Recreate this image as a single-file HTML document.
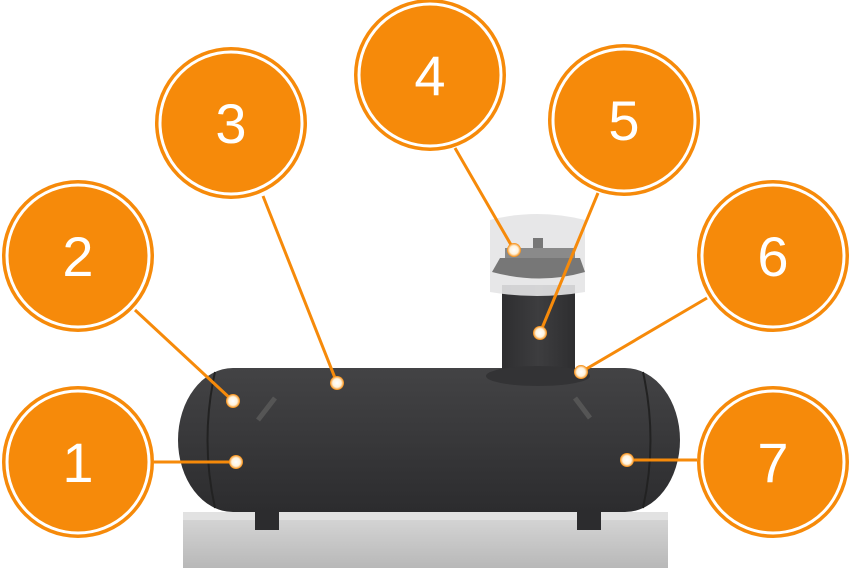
<!DOCTYPE html>
<html><head><style>html,body{margin:0;padding:0;background:#fff;width:850px;height:568px;overflow:hidden}</style></head>
<body>
<svg width="850" height="568" viewBox="0 0 850 568" xmlns="http://www.w3.org/2000/svg">
<defs>
<linearGradient id="tank" x1="0" y1="0" x2="0" y2="1">
<stop offset="0" stop-color="#434345"/><stop offset="0.5" stop-color="#38383a"/><stop offset="1" stop-color="#2c2c2e"/></linearGradient>
<linearGradient id="pipe" x1="0" y1="0" x2="1" y2="0">
<stop offset="0" stop-color="#2e2e30"/><stop offset="0.5" stop-color="#3d3d3f"/><stop offset="1" stop-color="#2e2e30"/></linearGradient>
<linearGradient id="base" x1="0" y1="0" x2="0" y2="1">
<stop offset="0" stop-color="#d8d8d8"/><stop offset="1" stop-color="#b8b8b8"/></linearGradient>
<radialGradient id="dot"><stop offset="0" stop-color="#fff"/><stop offset="0.6" stop-color="#fff3dd"/><stop offset="1" stop-color="#f68a0a"/></radialGradient>
</defs>
<rect x="183" y="512" width="485" height="56" fill="url(#base)"/>
<rect x="183" y="512" width="485" height="8" fill="#e2e2e2"/>
<rect x="255" y="490" width="24" height="40" fill="#2c2c2e"/>
<rect x="577" y="490" width="24" height="40" fill="#2c2c2e"/>
<rect x="178" y="368" width="502" height="144" rx="55" ry="72" fill="url(#tank)"/>
<path d="M215 372 Q200 440 215 508" stroke="#222" stroke-width="2" fill="none"/>
<path d="M643 372 Q658 440 643 508" stroke="#222" stroke-width="2" fill="none"/>
<path d="M258 420 L275 398" stroke="#555" stroke-width="5"/>
<path d="M575 398 L590 418" stroke="#555" stroke-width="5"/>
<rect x="502" y="285" width="73" height="95" fill="url(#pipe)"/>
<ellipse cx="538" cy="376" rx="52" ry="10" fill="#333335"/>
<path d="M490 220 Q537 208 585 220 L585 292 Q537 300 490 292 Z" fill="#e4e4e6" opacity="0.9"/>
<path d="M492 272 L500 258 L580 258 L585 272 Q540 285 492 272Z" fill="#777"/>
<rect x="533" y="238" width="10" height="20" fill="#777"/>
<rect x="505" y="248" width="70" height="10" fill="#8a8a8a"/>
<g stroke="#f68a0a" stroke-width="3" fill="none">
<line x1="154" y1="462" x2="236" y2="462"/>
<line x1="135" y1="310" x2="233" y2="401"/>
<line x1="263" y1="196" x2="337" y2="383"/>
<line x1="455" y1="148" x2="514" y2="250"/>
<line x1="598" y1="193" x2="540" y2="333"/>
<line x1="707" y1="298" x2="581" y2="372"/>
<line x1="697" y1="460" x2="627" y2="460"/>
</g>
<g fill="url(#dot)">
<circle cx="236" cy="462" r="7"/><circle cx="233" cy="401" r="7"/><circle cx="337" cy="383" r="7"/>
<circle cx="514" cy="250" r="7"/><circle cx="540" cy="333" r="7"/><circle cx="581" cy="372" r="7"/><circle cx="627" cy="460" r="7"/>
</g>
<g font-family="Liberation Sans, sans-serif" font-size="56" fill="#fff" text-anchor="middle">
<g transform="translate(78,462)"><circle r="76" fill="#f68a0a"/><circle r="71" fill="none" stroke="#fff" stroke-width="3"/><text y="20">1</text></g>
<g transform="translate(78,256)"><circle r="76" fill="#f68a0a"/><circle r="71" fill="none" stroke="#fff" stroke-width="3"/><text y="20">2</text></g>
<g transform="translate(231,123)"><circle r="76" fill="#f68a0a"/><circle r="71" fill="none" stroke="#fff" stroke-width="3"/><text y="20">3</text></g>
<g transform="translate(430,75)"><circle r="76" fill="#f68a0a"/><circle r="71" fill="none" stroke="#fff" stroke-width="3"/><text y="20">4</text></g>
<g transform="translate(624,120)"><circle r="76" fill="#f68a0a"/><circle r="71" fill="none" stroke="#fff" stroke-width="3"/><text y="20">5</text></g>
<g transform="translate(773,256)"><circle r="76" fill="#f68a0a"/><circle r="71" fill="none" stroke="#fff" stroke-width="3"/><text y="20">6</text></g>
<g transform="translate(773,462)"><circle r="76" fill="#f68a0a"/><circle r="71" fill="none" stroke="#fff" stroke-width="3"/><text y="20">7</text></g>
</g>
</svg>
</body></html>
